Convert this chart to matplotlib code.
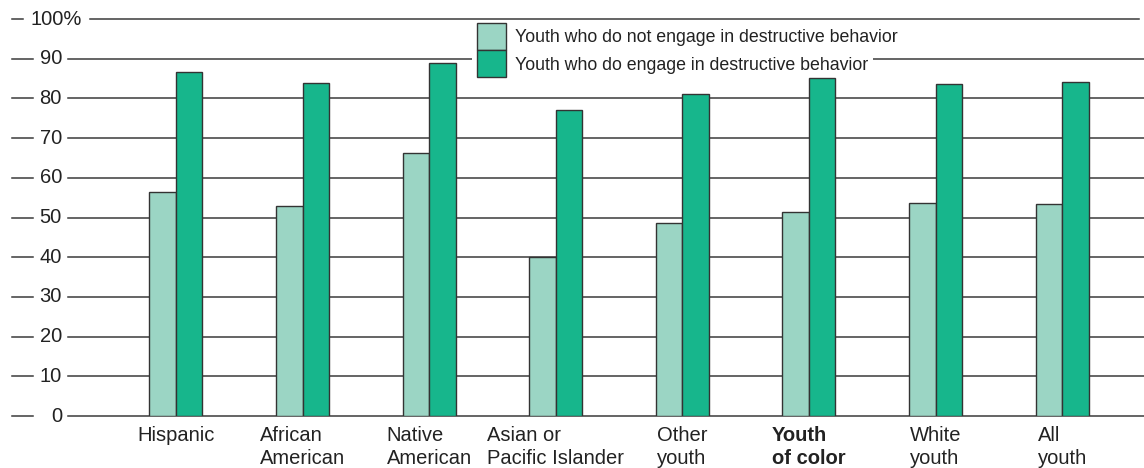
import matplotlib
matplotlib.use("Agg")
import matplotlib.pyplot as plt
from matplotlib.patches import Rectangle
from matplotlib.transforms import blended_transform_factory
import numpy as np

categories = ["Hispanic", "African\nAmerican", "Native\nAmerican", "Asian or\nPacific Islander",
              "Other\nyouth", "Youth\nof color", "White\nyouth", "All\nyouth"]
not_engage = [56.4, 52.8, 66.2, 40.1, 48.7, 51.4, 53.6, 53.3]
engage = [86.7, 84.0, 88.8, 77.0, 81.0, 85.1, 83.6, 84.2]
yticks = [0, 10, 20, 30, 40, 50, 60, 70, 80, 90, 100]
legend_labels = ["Youth who do not engage in destructive behavior",
                 "Youth who do engage in destructive behavior"]

LIGHT = "#9bd5c4"
DARK = "#17b68c"
EDGE = "#333333"
TXT = "#222222"
FONT = "Liberation Sans"

W, H = 1144, 468
fig = plt.figure(figsize=(W / 100, H / 100), dpi=100)
ax = fig.add_axes([0, 52 / H, 1, 397 / H])
ax.axis("off")

spacing = 126.6
first = 176
ax.set_xlim(-first / spacing, (W - first) / spacing)
ax.set_ylim(0, 100)

x = np.arange(len(categories))
bw = 26.5 / spacing
ax.bar(x - bw / 2, not_engage, bw, color=LIGHT, edgecolor=EDGE, linewidth=1.0, zorder=3)
ax.bar(x + bw / 2, engage, bw, color=DARK, edgecolor=EDGE, linewidth=1.0, zorder=3)

trans = blended_transform_factory(ax.transAxes, ax.transData)
for v in yticks:
    x0 = 90 / W if v == 100 else 68 / W
    x1 = 1139 / W if v == 100 else 1.0
    d1 = 23 / W if v == 100 else 33 / W
    ax.plot([x0, x1], [v, v], color="#3a3a3a", lw=1.1, transform=trans, clip_on=False, zorder=1)
    ax.plot([12 / W, d1], [v, v], color="#3a3a3a", lw=1.1, transform=trans, clip_on=False, zorder=1)
    if v == 100:
        ax.text(82 / W, v, "100%", ha="right", va="center", fontsize=14.5, color=TXT,
                family=FONT, transform=trans)
    else:
        ax.text(62 / W, v, str(v), ha="right", va="center", fontsize=14.5, color=TXT,
                family=FONT, transform=trans)

# x category labels
for i, lab in enumerate(categories):
    bold = lab.startswith("Youth\nof")
    ax.text(i, -2.6, lab, ha="center", va="top", multialignment="left", fontsize=14.5,
            color=TXT, family=FONT, fontweight="bold" if bold else "normal",
            linespacing=1.25, transform=ax.transData, clip_on=False)

# legend
def fx(px):
    return px / W

def fy(py):
    return 1 - py / H

ax.add_patch(Rectangle((fx(472), fy(76)), fx(873) - fx(472), fy(21) - fy(76),
                       transform=fig.transFigure, facecolor="white", edgecolor="none",
                       zorder=4, clip_on=False))
for k, (lab, col) in enumerate(zip(legend_labels, [LIGHT, DARK])):
    top = 23 + 27 * k
    ax.add_patch(Rectangle((fx(477), fy(top + 27)), fx(506) - fx(477), fy(top) - fy(top + 27),
                           transform=fig.transFigure, facecolor=col, edgecolor=EDGE,
                           lw=1.0, zorder=5, clip_on=False))
    ax.text(fx(515), fy(top + 15), lab, ha="left", va="center", fontsize=12.8,
            color=TXT, family=FONT, transform=fig.transFigure, zorder=6)

fig.savefig("out.png", dpi=100)
